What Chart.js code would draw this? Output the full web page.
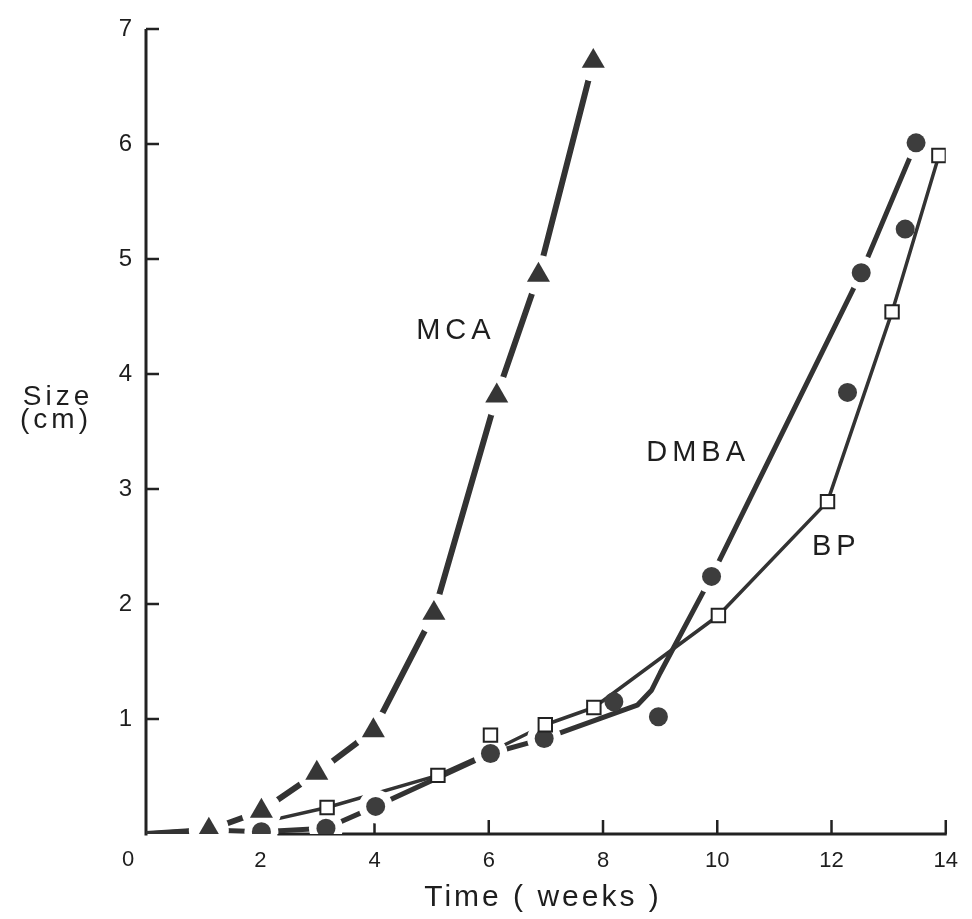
<!DOCTYPE html>
<html lang="en">
<head>
<title>Tumor size over time</title>
<meta charset="utf-8"/>
</head>
<script src="https://cdn.jsdelivr.net/npm/chart.js"></script>
<style>
body {
  margin: 0;
  background: #fff;
}
#wrap {
  width: 972px;
  height: 919px;
}
</style>
<body>
<div id="wrap"><canvas id="chart"></canvas></div>
<script>
"use strict";
// values (weeks, cm)
const mcaX = [1.1, 2.02, 2.99, 3.98, 5.04, 6.14, 6.87, 7.83];
const mcaY = [0.035, 0.2, 0.53, 0.9, 1.92, 3.81, 4.86, 6.72];
const mcaLineX = [0, 1.1, 2.02, 2.99, 3.98, 5.04, 6.14, 6.87, 7.83];
const mcaLineY = [0, 0.035, 0.2, 0.53, 0.9, 1.92, 3.81, 4.86, 6.72];

const dmbaX = [2.02, 3.15, 4.02, 6.03, 6.97, 8.19, 8.97, 9.9, 12.28, 12.52, 13.29, 13.48];
const dmbaY = [0.02, 0.05, 0.24, 0.7, 0.83, 1.15, 1.02, 2.24, 3.84, 4.88, 5.26, 6.01];
const dmbaLineX = [0, 1.1, 2.02, 3.15, 4.02, 6.03, 6.97, 8.6, 8.85, 9.0, 9.9, 12.52, 13.48];
const dmbaLineY = [0, 0.035, 0.02, 0.05, 0.24, 0.7, 0.83, 1.12, 1.25, 1.4, 2.24, 4.88, 6.01];

const bpX = [3.17, 5.11, 6.03, 6.99, 7.84, 10.02, 11.93, 13.06, 13.88];
const bpY = [0.23, 0.51, 0.86, 0.95, 1.1, 1.9, 2.89, 4.54, 5.9];
const bpLineX = [2.1, 3.17, 5.11, 6.05, 6.99, 7.84, 10.02, 11.93, 13.06, 13.88];
const bpLineY = [0.11, 0.23, 0.51, 0.72, 0.95, 1.1, 1.9, 2.89, 4.54, 5.9];

const xTicks = [0, 2, 4, 6, 8, 10, 12, 14];
const yTicks = [1, 2, 3, 4, 5, 6, 7];
const xAxisStart = 2.3;   // the printed x axis line starts here

// series labels placed in data coordinates
const seriesLabels = [
  {text: "MCA", x: 5.39, y: 4.37},
  {text: "DMBA", x: 9.63, y: 3.31},
  {text: "BP", x: 12.05, y: 2.5}
];

const INK = "#333333";
const FONT = "'Liberation Sans', Arial, sans-serif";

function pts(xs, ys){
  return xs.map((v, i) => ({x: v, y: ys[i]}));
}

const figurePlugin = {
  id: "figure",
  beforeDatasetsDraw(chart){
    const {ctx, scales: {x, y}} = chart;
    const x0 = x.getPixelForValue(0);
    const y0 = y.getPixelForValue(0);
    ctx.save();
    ctx.strokeStyle = "#222";
    ctx.lineCap = "butt";
    ctx.lineWidth = 3;
    ctx.beginPath();
    ctx.moveTo(x0, y0 + 1.5);
    ctx.lineTo(x0, y.getPixelForValue(7));
    ctx.moveTo(x.getPixelForValue(xAxisStart), y0);
    ctx.lineTo(x.getPixelForValue(14) + 1, y0);
    ctx.stroke();
    ctx.lineWidth = 2.5;
    ctx.beginPath();
    for(const v of yTicks){
      const py = y.getPixelForValue(v);
      ctx.moveTo(x0, py);
      ctx.lineTo(x0 + 13, py);
    }
    for(const v of xTicks){
      if(v < xAxisStart) continue;
      const px = x.getPixelForValue(v);
      ctx.moveTo(px, y0);
      ctx.lineTo(px, y0 - 14);
    }
    ctx.stroke();
    ctx.restore();
  },
  afterDraw(chart){
    const {ctx, scales: {x, y}} = chart;
    ctx.save();
    ctx.fillStyle = "#1e1e1e";
    ctx.textAlign = "center";
    ctx.textBaseline = "middle";

    // origin label sits left of the axis
    ctx.font = "22px " + FONT;
    ctx.fillText("0", x.getPixelForValue(0) - 18, y.getPixelForValue(0) + 26);

    // axis titles
    ctx.textBaseline = "alphabetic";
    ctx.font = "28px " + FONT;
    ctx.letterSpacing = "4px";
    ctx.fillText("Size", 58, 405);
    ctx.fillText("(cm)", 56, 428);
    ctx.font = "30px " + FONT;
    ctx.letterSpacing = "3px";
    ctx.fillText("Time ( weeks )", 543, 906);

    // series labels
    ctx.font = "29px " + FONT;
    ctx.letterSpacing = "5px";
    ctx.textBaseline = "middle";
    for(const l of seriesLabels){
      ctx.fillText(l.text, x.getPixelForValue(l.x) + 2, y.getPixelForValue(l.y));
    }
    ctx.restore();
  }
};

const lineSet = (xs, ys, w, order) => ({
  data: pts(xs, ys),
  showLine: true,
  borderColor: INK,
  borderWidth: w,
  borderJoinStyle: "round",
  pointRadius: 0,
  order: order
});

new Chart(document.getElementById("chart"), {
  type: "scatter",
  data: {
    datasets: [
      // markers on top
      {
        data: pts(bpX, bpY),
        pointStyle: "rect",
        pointRadius: 9.5,
        backgroundColor: "#fff",
        borderColor: "#222",
        borderWidth: 2,
        order: 0
      },
      {
        data: pts(dmbaX, dmbaY),
        pointStyle: "circle",
        pointRadius: 9.5,
        backgroundColor: "#3d3d3d",
        borderWidth: 0,
        order: 1
      },
      {
        data: pts(mcaX, mcaY),
        pointStyle: "triangle",
        pointRadius: 13.3,
        backgroundColor: "#363636",
        borderWidth: 0,
        order: 1
      },
      // white halos that break the lines around the markers
      {
        data: pts(dmbaX, dmbaY),
        pointStyle: "circle",
        pointRadius: c => dmbaLineX.includes(dmbaX[c.dataIndex]) ? 17 : 0,
        backgroundColor: "#fff",
        borderWidth: 0,
        order: 2
      },
      {
        data: pts(mcaX, mcaY),
        pointStyle: "circle",
        pointRadius: 20,
        backgroundColor: "#fff",
        borderWidth: 0,
        order: 2
      },
      // lines
      lineSet(mcaLineX, mcaLineY, 6, 3),
      lineSet(dmbaLineX, dmbaLineY, 5, 3),
      lineSet(bpLineX, bpLineY, 3.5, 3)
    ]
  },
  options: {
    responsive: true,
    maintainAspectRatio: false,
    animation: false,
    events: [],
    layout: {
      padding: {left: 0, right: 21, top: 29, bottom: 0}
    },
    plugins: {
      legend: {display: false},
      tooltip: {enabled: false}
    },
    scales: {
      x: {
        type: "linear",
        min: 0,
        max: 14,
        afterFit: s => { s.height = 85; },
        afterBuildTicks: s => { s.ticks = xTicks.map(v => ({value: v})); },
        grid: {display: false, drawTicks: false},
        border: {display: false},
        ticks: {
          padding: 14,
          color: "#1e1e1e",
          font: {family: FONT, size: 22},
          callback: v => v === 0 ? "" : String(v)
        }
      },
      y: {
        type: "linear",
        min: 0,
        max: 7,
        afterFit: s => { s.width = 146; },
        afterBuildTicks: s => { s.ticks = yTicks.map(v => ({value: v})); },
        grid: {display: false, drawTicks: false},
        border: {display: false},
        ticks: {
          padding: 14,
          color: "#1e1e1e",
          font: {family: FONT, size: 24},
          callback: v => String(v)
        }
      }
    }
  },
  plugins: [figurePlugin]
});
</script>
</body>
</html>
